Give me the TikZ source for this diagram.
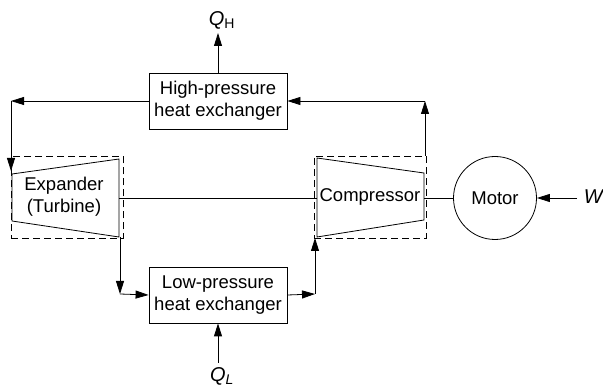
\documentclass[tikz,border=0pt]{standalone}
\usepackage{fontspec}
\setmainfont{Liberation Sans}
\usetikzlibrary{arrows.meta,positioning,calc}

\begin{document}
\begin{tikzpicture}[
  x=1pt,y=-1pt,
  font=\fontsize{18.5}{22}\selectfont,
  hx/.style={draw,minimum width=138pt,minimum height=56pt,align=center,
             inner sep=2pt,line width=0.8pt},
  casing/.style={draw,dashed,dash pattern=on 7pt off 4pt,minimum width=112pt,
                 minimum height=82pt,inner sep=0pt,line width=0.8pt},
  machine/.style={line width=0.8pt},
  flow/.style={-{Triangle[length=13pt,width=8pt]},line width=0.8pt},
  pipe/.style={line width=0.8pt},
  sym/.style={font=\fontsize{20}{24}\selectfont}
]
\useasboundingbox (0,0) rectangle (603,390);

% heat exchangers
\node[hx] (hp) at (218,101) {High-pressure\\heat exchanger};
\node[hx] (lp) at (218,295) {Low-pressure\\heat exchanger};

% expander and compressor
\node[casing] (expc) at (67,197.5) {};
\node[casing] (compc) at (370,197) {};
\draw[machine] (12,174) coordinate (e1) -- (119,159) coordinate (e2)
  -- (119,237) coordinate (e3) -- (12,221) coordinate (e4) -- cycle;
\draw[machine] (317,158) coordinate (c1) -- (424,173) coordinate (c2)
  -- (424,220) coordinate (c3) -- (317,237) coordinate (c4) -- cycle;
\node[align=center] (exp) at (64,197) {Expander\\(Turbine)};
\node (comp) at (370,197) {Compressor};
\node[draw,circle,minimum size=83pt,inner sep=0pt,line width=0.8pt] (motor) at (495,198) {Motor};

% shaft
\draw[pipe] (119,198) coordinate (es) -- (317,198) coordinate (cs);
\draw[pipe] (424,198) coordinate (cm) -- (motor.west);

% heat and work
\node[sym] (qh) at (222,20) {\textit{Q}\textsubscript{H}};
\node[sym] (ql) at (222,376) {\textit{Q\textsubscript{L}}};
\node[sym] (w) at (594,197) {\textit{W}};
\draw[flow] (hp.north) -- (218,33);
\draw[flow] (218,363) -- (lp.south);
\draw[flow] (577,198) -- (motor.east);

% working fluid loop
\coordinate (tr) at (425,101);
\coordinate (tl) at (11,101);
\coordinate (bl) at (120,294);
\coordinate (br) at (315,294);
\draw[flow] (425,156) -- (tr);
\draw[flow] (tr) -- (hp.east);
\draw[flow] (hp.west) -- (tl);
\draw[flow] (tl) -- (11,171);
\draw[flow] (120,237) -- (bl);
\draw[flow] (bl) -- (lp.west);
\draw[flow] (lp.east) -- (br);
\draw[flow] (br) -- (315,238);
\end{tikzpicture}
\end{document}
